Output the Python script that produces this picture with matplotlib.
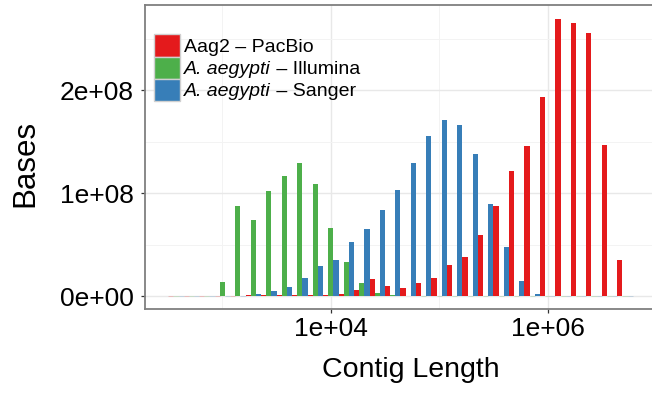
import matplotlib
matplotlib.use("Agg")
import matplotlib.pyplot as plt
from matplotlib.patches import Patch
from matplotlib.ticker import FixedLocator, FuncFormatter, NullFormatter
import numpy as np

plt.rcParams['font.family'] = ['Liberation Sans', 'DejaVu Sans']

# ---- data (30 log10 bins, 7 bins per decade; heights in units of 1e8 bases) ----
bin_index = list(range(18, 48))          # bin centre = index / 7 (log10 contig length)
bins_per_decade = 7

series_names = ["Aag2 \u2013 PacBio",
                "A. aegypti \u2013 Illumina",
                "A. aegypti \u2013 Sanger"]
italic_parts = ["", "A. aegypti", "A. aegypti"]
plain_parts = ["Aag2 \u2013 PacBio", " \u2013 Illumina", " \u2013 Sanger"]
series_colors = ["#E41A1C", "#4DAF4A", "#377EB8"]

pacbio = [0, 0, 0, 0, 0, 0.008, 0.008, 0.008, 0.008, 0.008, 0.008, 0.02, 0.057, 0.162,
          0.094, 0.075, 0.123, 0.172, 0.299, 0.377, 0.591, 0.873, 1.214, 1.458, 1.935,
          2.695, 2.656, 2.558, 1.468, 0.347]
illumina = [0, 0, 0, 0.135, 0.875, 0.739, 1.02, 1.167, 1.294, 1.089, 0.661, 0.33, 0.125,
            0.03, 0.01, 0.005, 0, 0, 0, 0, 0, 0, 0, 0, 0, 0, 0, 0, 0, 0]
sanger = [0, 0, 0, 0, 0, 0.018, 0.047, 0.086, 0.174, 0.291, 0.349, 0.525, 0.651, 0.836,
          1.03, 1.293, 1.555, 1.711, 1.662, 1.38, 0.893, 0.474, 0.143, 0.016, 0, 0, 0, 0, 0, 0]
series_values = [pacbio, illumina, sanger]

y_ticks = [0, 1e8, 2e8]
x_ticks = [1e4, 1e6]

# ---- figure ----
W, H = 652, 394
fig = plt.figure(figsize=(W / 100, H / 100), dpi=100)
fig.patch.set_facecolor("white")
left, right, top, bottom = 145, 656, 5, 309
ax = fig.add_axes([left / W, 1 - bottom / H, (right - left) / W, (bottom - top) / H])
ax.set_facecolor("white")
ax.set_xscale("log")

centres = np.array(bin_index) / bins_per_decade
bw = 1 / bins_per_decade
for i, (vals, col) in enumerate(zip(series_values, series_colors)):
    l = centres - bw / 2 + i * bw / 3
    r = l + bw / 3
    lefts = 10 ** l
    widths = 10 ** r - lefts
    h = np.array(vals) * 1e8
    ax.bar(lefts, h, width=widths, align="edge", color=col, linewidth=0, zorder=3)
    zero = h == 0
    ax.bar(lefts[zero], h[zero], width=widths[zero], align="edge", color=col,
           edgecolor=matplotlib.colors.to_rgba(col, 0.25), linewidth=0.6, zorder=2)

ax.set_xlim(10 ** 2.286, 10 ** 7.0)
ax.set_ylim(-0.125e8, 2.83e8)

ax.xaxis.set_major_locator(FixedLocator(x_ticks))
ax.xaxis.set_minor_locator(FixedLocator([1e3, 1e5, 1e7]))
ax.xaxis.set_major_formatter(FuncFormatter(lambda v, p: f"{v:.0e}"))
ax.xaxis.set_minor_formatter(NullFormatter())
ax.yaxis.set_major_locator(FixedLocator(y_ticks))
ax.yaxis.set_minor_locator(FixedLocator([0.5e8, 1.5e8, 2.5e8]))
ax.yaxis.set_major_formatter(FuncFormatter(lambda v, p: f"{v:.0e}"))

ax.grid(True, which="major", color="#e8e8e8", linewidth=1.0, zorder=0)
ax.grid(True, which="minor", color="#f3f3f3", linewidth=0.7, zorder=0)
ax.set_axisbelow(True)

ax.tick_params(which="major", direction="out", length=3, width=0.9, color="#333333",
               labelsize=19, labelcolor="black")
ax.tick_params(axis="y", pad=5)
ax.tick_params(axis="x", pad=3)
ax.tick_params(which="minor", length=0)
for s in ax.spines.values():
    s.set_color("#7f7f7f")
    s.set_linewidth(1.3)

fig.text(410.5 / W, 1 - 377 / H, "Contig Length", ha="center", va="baseline", fontsize=20.5)
fig.text(33.3 / W, 1 - 163.3 / H, "Bases", rotation=90, rotation_mode="anchor",
         ha="center", va="baseline", fontsize=22.5)

handles = [Patch(facecolor=c, edgecolor="#d0d0d0", linewidth=1.0) for c in series_colors]
leg = fig.legend(handles, series_names, loc="upper left",
                 bbox_to_anchor=(154.3 / W, 1 - 34.3 / H), frameon=False,
                 fontsize=14, handlelength=1.34, handleheight=1.38, labelspacing=0.0,
                 handletextpad=0.2, borderpad=0, borderaxespad=0)

# replace mixed-style labels with an italic part followed by an upright part
fig.canvas.draw()
renderer = fig.canvas.get_renderer()
for t, it, pl in zip(leg.get_texts(), italic_parts, plain_parts):
    if not it:
        continue
    bb = t.get_window_extent(renderer)
    t.set_text("")
    t1 = fig.text(bb.x0 / W, bb.y0 / H, it, fontsize=14, fontstyle="italic",
                  ha="left", va="bottom")
    ax.annotate(pl, xy=(1, 0), xycoords=t1, fontsize=14,
                ha="left", va="bottom", annotation_clip=False)

fig.savefig("out.png", dpi=100, facecolor="white")
